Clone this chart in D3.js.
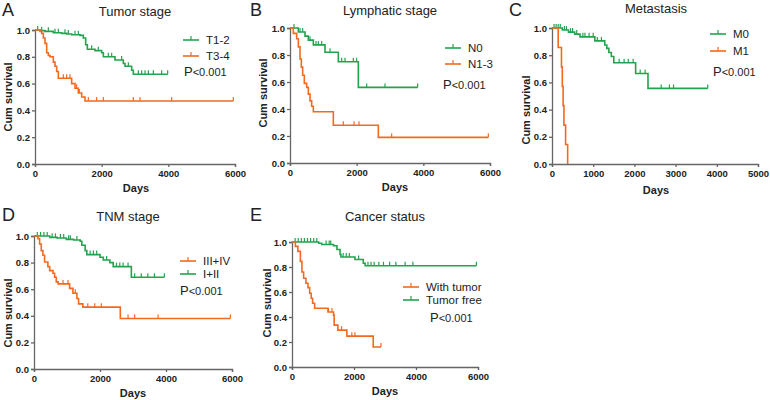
<!DOCTYPE html>
<html><head><meta charset="utf-8">
<script src="https://cdn.jsdelivr.net/npm/d3@7"></script>
<style>
body{margin:0;background:#fff;}
text{font-family:"Liberation Sans",Arial,sans-serif;}
</style></head>
<body><svg id="c" width="770" height="400"></svg>
<script>
const GREEN = "#22a34e", ORANGE = "#f26a1f";
const yTicks = [0, 0.2, 0.4, 0.6, 0.8, 1.0];
const xTicks6000 = [0, 2000, 4000, 6000];
const xTicks5000 = [0, 1000, 2000, 3000, 4000, 5000];

// Panel A: Tumor stage
const A_t12_times = [150, 300, 550, 800, 950, 1100, 1350, 1450, 1520, 1570, 1800, 2000, 2050, 2400, 2650, 2700, 2900, 2950];
const A_t12_surv  = [0.995, 0.99, 0.98, 0.975, 0.97, 0.965, 0.96, 0.94, 0.89, 0.856, 0.846, 0.83, 0.80, 0.776, 0.75, 0.73, 0.70, 0.67];
const A_t12_cens  = [80, 200, 400, 600, 700, 900, 1000, 1200, 1300, 1700, 1900, 2200, 2300, 2600, 2800, 3100, 3200, 3300, 3400, 3550, 3800, 3980];
const A_t34_times = [150, 200, 250, 300, 350, 400, 450, 550, 600, 650, 700, 1100, 1200, 1300, 1400, 1500];
const A_t34_surv  = [0.99, 0.975, 0.94, 0.90, 0.83, 0.81, 0.80, 0.76, 0.73, 0.69, 0.64, 0.60, 0.565, 0.53, 0.50, 0.47];
const A_t34_cens  = [850, 950, 1050, 1250, 1330, 1600, 1850, 2050, 2950, 3150, 4100, 5950];

// Panel B: Lymphatic stage
const B_n0_times = [250, 450, 550, 700, 1050, 1450, 2050];
const B_n0_surv  = [0.97, 0.94, 0.91, 0.875, 0.82, 0.75, 0.56];
const B_n0_cens  = [120, 300, 380, 600, 780, 850, 950, 1200, 1550, 1650, 1900, 2000, 2300, 2850, 3830];
const B_n13_times = [100, 200, 250, 300, 340, 380, 430, 500, 550, 600, 650, 700, 1300, 2650];
const B_n13_surv  = [0.96, 0.92, 0.86, 0.77, 0.71, 0.65, 0.59, 0.56, 0.51, 0.46, 0.42, 0.38, 0.28, 0.19];
const B_n13_cens  = [1600, 1920, 2070, 3050, 5950];

// Panel C: Metastasis
const C_m0_times = [250, 400, 550, 680, 1040, 1280, 1330, 1380, 1440, 1500, 2030, 2330];
const C_m0_surv  = [0.985, 0.97, 0.955, 0.935, 0.905, 0.875, 0.85, 0.82, 0.79, 0.745, 0.665, 0.556];
const C_m0_cens  = [50, 100, 150, 200, 300, 350, 450, 500, 600, 750, 800, 900, 1000, 1100, 1200, 1630, 1750, 1850, 1970, 2140, 2260, 2650, 2850, 2950, 3780];
const C_m1_times = [150, 230, 250, 270, 290, 330, 380];
const C_m1_surv  = [0.857, 0.714, 0.571, 0.429, 0.286, 0.143, 0];
const C_m1_cens  = [];

// Panel D: TNM stage
const D_12_times = [480, 700, 980, 1200, 1400, 1450, 1550, 1600, 2000, 2100, 2300, 2400, 2950];
const D_12_surv  = [0.99, 0.985, 0.975, 0.97, 0.96, 0.93, 0.89, 0.86, 0.84, 0.82, 0.80, 0.77, 0.69];
const D_12_cens  = [100, 200, 300, 400, 550, 650, 800, 900, 1050, 1100, 1300, 1700, 1800, 1900, 2200, 2500, 2600, 2700, 2850, 3050, 3250, 3450, 3650, 3950];
const D_34_times = [120, 170, 220, 270, 320, 420, 475, 575, 625, 675, 730, 1080, 1180, 1300, 1350, 1480, 2615];
const D_34_surv  = [0.98, 0.94, 0.89, 0.855, 0.805, 0.77, 0.74, 0.72, 0.69, 0.655, 0.64, 0.606, 0.57, 0.53, 0.49, 0.465, 0.38];
const D_34_cens  = [880, 1030, 1250, 1630, 1840, 2040, 2850, 3050, 3760, 5950];

// Panel E: Cancer status
const E_free_times = [860, 960, 1340, 1450, 1550, 1580, 2030, 2300, 2360];
const E_free_surv  = [0.99, 0.98, 0.97, 0.94, 0.90, 0.88, 0.86, 0.83, 0.81];
const E_free_cens  = [100, 200, 300, 400, 500, 600, 700, 800, 1100, 1200, 1250, 1650, 1750, 1850, 2150, 2450, 2550, 2650, 2800, 2950, 3150, 3350, 3650, 3900, 5950];
const E_tum_times = [110, 190, 270, 320, 375, 450, 515, 570, 620, 665, 730, 1160, 1340, 1360, 1480, 1770, 2620];
const E_tum_surv  = [0.965, 0.925, 0.845, 0.76, 0.71, 0.67, 0.635, 0.59, 0.55, 0.51, 0.47, 0.44, 0.415, 0.335, 0.295, 0.247, 0.16];
const E_tum_cens  = [1180, 1290, 1600, 1930, 2030, 2870];

const panels = [
  {letter:"A", lx:2, ly:16, title:"Tumor stage", tx:135, ty:16, xr:[35,235], yr:[164,30], xmax:6000, xt:xTicks6000,
   ylab:[8,97], xlab:[136,192],
   series:[{t:A_t12_times,s:A_t12_surv,c:A_t12_cens,col:GREEN},{t:A_t34_times,s:A_t34_surv,c:A_t34_cens,col:ORANGE}],
   legend:[{name:"T1-2",col:GREEN},{name:"T3-4",col:ORANGE}], lgx:183, lgy:40, lgdy:16, px:184, py:76},
  {letter:"B", lx:250, ly:16, title:"Lymphatic stage", tx:390, ty:15, xr:[290,490], yr:[163,28], xmax:6000, xt:xTicks6000,
   ylab:[263,93], xlab:[395,191],
   series:[{t:B_n0_times,s:B_n0_surv,c:B_n0_cens,col:GREEN},{t:B_n13_times,s:B_n13_surv,c:B_n13_cens,col:ORANGE}],
   legend:[{name:"N0",col:GREEN},{name:"N1-3",col:ORANGE}], lgx:445, lgy:48, lgdy:16, px:443, py:89},
  {letter:"C", lx:509, ly:16, title:"Metastasis", tx:656, ty:13, xr:[552,758], yr:[164,28], xmax:5000, xt:xTicks5000,
   ylab:[526,110], xlab:[656,194],
   series:[{t:C_m0_times,s:C_m0_surv,c:C_m0_cens,col:GREEN},{t:C_m1_times,s:C_m1_surv,c:C_m1_cens,col:ORANGE}],
   legend:[{name:"M0",col:GREEN},{name:"M1",col:ORANGE}], lgx:710, lgy:34, lgdy:17, px:713, py:76},
  {letter:"D", lx:2, ly:221, title:"TNM stage", tx:128, ty:221, xr:[34,232], yr:[369,236], xmax:6000, xt:xTicks6000,
   ylab:[8,313], xlab:[133,397],
   series:[{t:D_12_times,s:D_12_surv,c:D_12_cens,col:GREEN},{t:D_34_times,s:D_34_surv,c:D_34_cens,col:ORANGE}],
   legend:[{name:"III+IV",col:ORANGE},{name:"I+II",col:GREEN}], lgx:180, lgy:261, lgdy:13, px:180, py:295},
  {letter:"E", lx:250, ly:221, title:"Cancer status", tx:385, ty:221, xr:[292,478], yr:[367,242], xmax:6000, xt:xTicks6000,
   ylab:[267,303], xlab:[385,395],
   series:[{t:E_free_times,s:E_free_surv,c:E_free_cens,col:GREEN},{t:E_tum_times,s:E_tum_surv,c:E_tum_cens,col:ORANGE}],
   legend:[{name:"With tumor",col:ORANGE},{name:"Tumor free",col:GREEN}], lgx:403, lgy:287, lgdy:13, px:430, py:322}
];

const svg = d3.select("#c");

function survAt(t, times, surv){
  let v = 1;
  for (let i=0;i<times.length;i++){ if (times[i] <= t) v = surv[i]; }
  return v;
}

panels.forEach(p => {
  const g = svg.append("g");
  const x = d3.scaleLinear().domain([0,p.xmax]).range(p.xr);
  const y = d3.scaleLinear().domain([0,1]).range(p.yr);

  g.append("text").attr("x",p.lx).attr("y",p.ly).attr("font-size",18).attr("fill","#222").text(p.letter);
  g.append("text").attr("x",p.tx).attr("y",p.ty).attr("text-anchor","middle").attr("font-size",13).attr("fill","#222").text(p.title);

  const yAxis = g.append("g").attr("transform",`translate(${p.xr[0]},0)`)
    .call(d3.axisLeft(y).tickValues(yTicks).tickFormat(d3.format(".1f")).tickSize(3).tickPadding(2));
  const xAxis = g.append("g").attr("transform",`translate(0,${p.yr[0]})`)
    .call(d3.axisBottom(x).tickValues(p.xt).tickFormat(d3.format("d")).tickSize(3).tickPadding(3));
  [yAxis,xAxis].forEach(a=>{
    a.select(".domain").attr("stroke","#666").attr("stroke-width",1.3);
    a.selectAll(".tick line").attr("stroke","#666").attr("stroke-width",1.3);
    a.selectAll(".tick text").attr("font-size",9.5).attr("font-weight","bold").attr("fill","#222")
      .attr("font-family","'Liberation Sans',Arial,sans-serif");
  });

  g.append("text").attr("transform",`translate(${p.ylab[0]},${p.ylab[1]}) rotate(-90)`)
    .attr("text-anchor","middle").attr("dominant-baseline","central")
    .attr("font-size",11).attr("font-weight","bold").attr("fill","#222").text("Cum survival");
  g.append("text").attr("x",p.xlab[0]).attr("y",p.xlab[1]).attr("text-anchor","middle")
    .attr("font-size",11).attr("font-weight","bold").attr("fill","#222").text("Days");

  p.series.forEach(s => {
    const end = Math.max(s.t[s.t.length-1], s.c.length ? s.c[s.c.length-1] : 0);
    const pts = [[0,1]].concat(s.t.map((t,i)=>[t,s.s[i]]));
    pts.push([end, survAt(end, s.t, s.s)]);
    const line = d3.line().x(d=>x(d[0])).y(d=>y(d[1])).curve(d3.curveStepAfter);
    g.append("path").attr("d",line(pts)).attr("fill","none").attr("stroke",s.col).attr("stroke-width",1.6);
    g.selectAll(null).data(s.c).enter().append("line")
      .attr("x1",d=>x(d)).attr("x2",d=>x(d))
      .attr("y1",d=>y(survAt(d,s.t,s.s))).attr("y2",d=>y(survAt(d,s.t,s.s))-4)
      .attr("stroke",s.col).attr("stroke-width",1.2);
  });

  p.legend.forEach((l,i)=>{
    const ly = p.lgy + i*p.lgdy;
    g.append("line").attr("x1",p.lgx).attr("x2",p.lgx+16).attr("y1",ly).attr("y2",ly).attr("stroke",l.col).attr("stroke-width",1.6);
    g.append("line").attr("x1",p.lgx+8).attr("x2",p.lgx+8).attr("y1",ly).attr("y2",ly-4).attr("stroke",l.col).attr("stroke-width",1.2);
    g.append("text").attr("x",p.lgx+23).attr("y",ly+4).attr("font-size",11.5).attr("fill","#222").text(l.name);
  });
  const pt = g.append("text").attr("x",p.px).attr("y",p.py).attr("fill","#222");
  pt.append("tspan").attr("font-size",13).text("P");
  pt.append("tspan").attr("font-size",11).text("<0.001");
});
</script></body></html>
